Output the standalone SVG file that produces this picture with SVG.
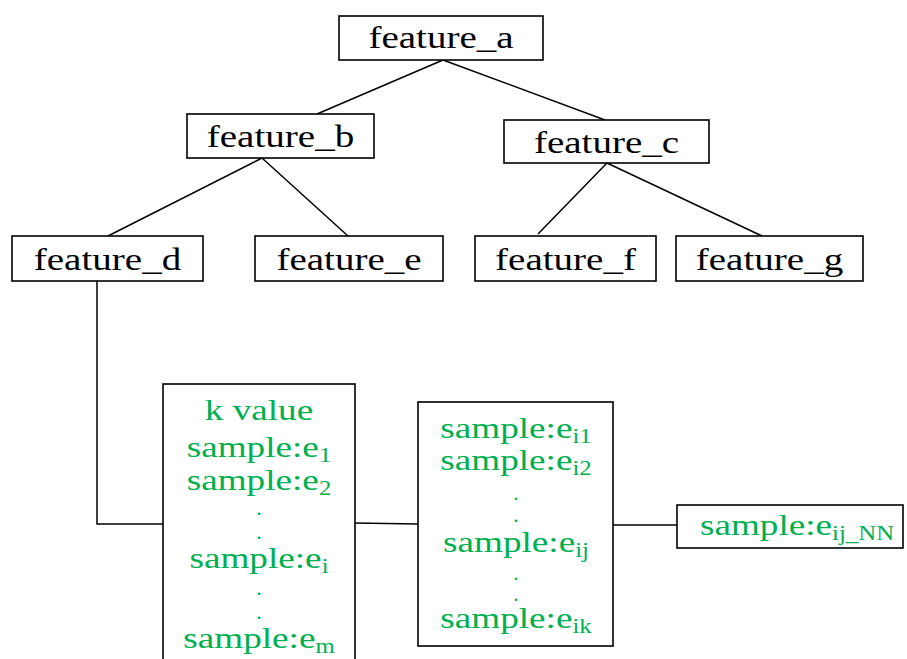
<svg xmlns="http://www.w3.org/2000/svg" width="907" height="659" viewBox="0 0 907 659">
  <style>
    .box { fill: #ffffff; stroke: #000000; stroke-width: 1.6; }
    .edge { fill: none; stroke: #000000; stroke-width: 1.5; }
    .lbl { font-family: "Liberation Serif", "Times New Roman", serif; font-size: 31px; fill: #000000; text-anchor: middle; }
    .smp { font-family: "Liberation Serif", "Times New Roman", serif; font-size: 30px; fill: #00b050; text-anchor: middle; }
    .dot { font-family: "Liberation Serif", "Times New Roman", serif; font-size: 22px; fill: #00b050; text-anchor: middle; }
    .sub { font-size: 20px; }
  </style>
  <rect width="907" height="659" fill="#ffffff"/>

  <!-- connectors -->
  <g id="connectors">
    <line class="edge" x1="443" y1="60" x2="317" y2="114"/>
    <line class="edge" x1="443" y1="60" x2="605" y2="120"/>
    <line class="edge" x1="262" y1="158" x2="108" y2="236"/>
    <line class="edge" x1="262" y1="158" x2="348" y2="236"/>
    <line class="edge" x1="607" y1="163" x2="538" y2="234"/>
    <line class="edge" x1="607" y1="163" x2="762" y2="236"/>
    <polyline class="edge" points="97,281 97,524 163,524"/>
    <line class="edge" x1="355" y1="523" x2="418" y2="524"/>
    <line class="edge" x1="613" y1="525" x2="677" y2="525"/>
  </g>

  <!-- tree of features -->
  <g id="feature_a">
    <rect class="box" x="339" y="16" width="204" height="44"/>
    <text class="lbl" transform="translate(441 48) scale(1.26 1)">feature_a</text>
  </g>
  <g id="feature_b">
    <rect class="box" x="187" y="114" width="187" height="44"/>
    <text class="lbl" transform="translate(280.5 147) scale(1.26 1)">feature_b</text>
  </g>
  <g id="feature_c">
    <rect class="box" x="504" y="120" width="205" height="43"/>
    <text class="lbl" transform="translate(606.5 153) scale(1.26 1)">feature_c</text>
  </g>
  <g id="feature_d">
    <rect class="box" x="12" y="236" width="191" height="45"/>
    <text class="lbl" transform="translate(107.5 270) scale(1.26 1)">feature_d</text>
  </g>
  <g id="feature_e">
    <rect class="box" x="255" y="236" width="188" height="45"/>
    <text class="lbl" transform="translate(349 270) scale(1.26 1)">feature_e</text>
  </g>
  <g id="feature_f">
    <rect class="box" x="475" y="236" width="181" height="45"/>
    <text class="lbl" transform="translate(565.5 270) scale(1.26 1)">feature_f</text>
  </g>
  <g id="feature_g">
    <rect class="box" x="676" y="236" width="187" height="45"/>
    <text class="lbl" transform="translate(769.5 270) scale(1.26 1)">feature_g</text>
  </g>

  <!-- k-value sample list -->
  <g id="k_samples">
    <rect class="box" x="163" y="384" width="192" height="290"/>
    <text class="smp" transform="translate(259 420) scale(1.24 1)">k value</text>
    <text class="smp" transform="translate(259 457) scale(1.24 1)">sample:e<tspan class="sub" dy="5">1</tspan></text>
    <text class="smp" transform="translate(259 490) scale(1.24 1)">sample:e<tspan class="sub" dy="5">2</tspan></text>
    <text class="dot" transform="translate(259 515)">.</text>
    <text class="dot" transform="translate(259 539)">.</text>
    <text class="smp" transform="translate(259 568) scale(1.24 1)">sample:e<tspan class="sub" dy="5">i</tspan></text>
    <text class="dot" transform="translate(259 595)">.</text>
    <text class="dot" transform="translate(259 619)">.</text>
    <text class="smp" transform="translate(259 648) scale(1.24 1)">sample:e<tspan class="sub" dy="5">m</tspan></text>
  </g>

  <!-- neighbours of sample e_i -->
  <g id="neighbour_samples">
    <rect class="box" x="418" y="402" width="195" height="244"/>
    <text class="smp" transform="translate(516 438) scale(1.24 1)">sample:e<tspan class="sub" dy="5">i1</tspan></text>
    <text class="smp" transform="translate(516 470) scale(1.24 1)">sample:e<tspan class="sub" dy="5">i2</tspan></text>
    <text class="dot" transform="translate(516 500)">.</text>
    <text class="dot" transform="translate(516 522)">.</text>
    <text class="smp" transform="translate(516 552) scale(1.24 1)">sample:e<tspan class="sub" dy="5">ij</tspan></text>
    <text class="dot" transform="translate(516 580)">.</text>
    <text class="dot" transform="translate(516 601)">.</text>
    <text class="smp" transform="translate(516 628) scale(1.24 1)">sample:e<tspan class="sub" dy="5">ik</tspan></text>
  </g>

  <!-- nearest neighbour -->
  <g id="nearest_sample">
    <rect class="box" x="677" y="505" width="226" height="43"/>
    <text class="smp" transform="translate(797 535) scale(1.24 1)">sample:e<tspan class="sub" dy="5">ij_NN</tspan></text>
  </g>
</svg>
